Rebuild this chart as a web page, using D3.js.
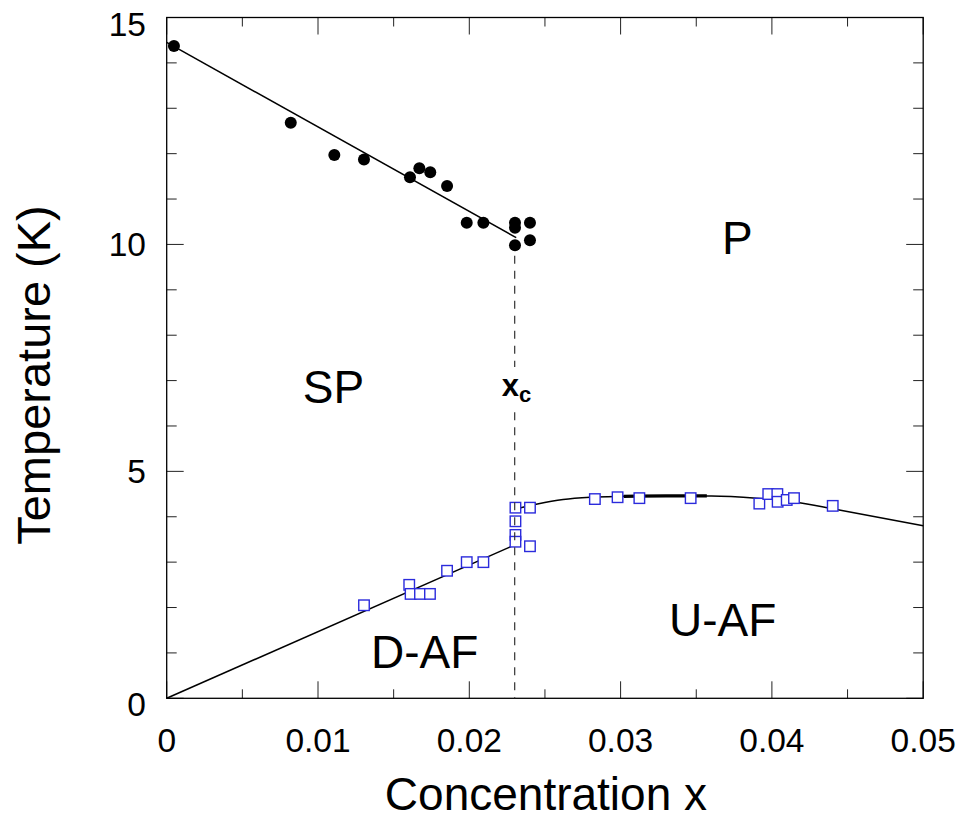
<!DOCTYPE html>
<html>
<head>
<meta charset="utf-8">
<script src="https://cdn.jsdelivr.net/npm/d3@7/dist/d3.min.js"></script>
<style>
  html, body { margin: 0; padding: 0; background: #fff; }
  svg { display: block; }
  text { font-family: "Liberation Sans", Arial, Helvetica, sans-serif; fill: #000; }
</style>
</head>
<body>
<svg id="chart" width="963" height="822"></svg>
<script>
// ---- data ----
const spX = [0.00048, 0.0082, 0.01108, 0.01304, 0.01608, 0.0167, 0.01742, 0.01853, 0.01983, 0.02093, 0.02302, 0.02302, 0.02302, 0.02401, 0.02401];
const spT = [14.37, 12.68, 11.97, 11.87, 11.48, 11.68, 11.59, 11.29, 10.48, 10.48, 10.48, 10.37, 9.98, 10.48, 10.09];

const afX = [0.01304, 0.01603, 0.01612, 0.01674, 0.0174, 0.01853, 0.01983, 0.02093, 0.02305, 0.02305, 0.02305, 0.02305, 0.02401, 0.02401,
             0.0283, 0.0298, 0.03124, 0.03463, 0.03917, 0.03976, 0.04036, 0.04038, 0.04098, 0.04146, 0.04402];
const afT = [2.05, 2.50, 2.30, 2.30, 2.30, 2.81, 3.00, 3.00, 4.20, 3.90, 3.60, 3.45, 4.20, 3.35,
             4.39, 4.43, 4.41, 4.41, 4.29, 4.50, 4.50, 4.33, 4.37, 4.41, 4.24];

const spLineX = [0, 0.0231];
const spLineT = [14.45, 10.15];

const dafLineX = [0, 0.0230];
const dafLineT = [0, 3.38];

const uafX = [0.0232, 0.0245, 0.0262, 0.0280, 0.0300, 0.0330, 0.0360, 0.0390, 0.0416, 0.0441, 0.0500];
const uafT = [4.18, 4.28, 4.38, 4.43, 4.45, 4.46, 4.46, 4.41, 4.32, 4.17, 3.80];

const thickX = [0.0302, 0.0330, 0.0357];
const thickT = [4.45, 4.46, 4.46];

const xc = 0.023;
const xcDashTop = [9.75, 7.3];
const xcDashBottom = [6.3, 0];

const xMajorTicks = [0, 0.01, 0.02, 0.03, 0.04, 0.05];
const xTickLabels = ["0", "0.01", "0.02", "0.03", "0.04", "0.05"];
const xMinorTicks = [0.005, 0.015, 0.025, 0.035, 0.045];
const yMajorTicks = [0, 5, 10, 15];
const yTickLabels = ["0", "5", "10", "15"];
const yMinorTicks = [1, 2, 3, 4, 6, 7, 8, 9, 11, 12, 13, 14];

const regionLabels = ["P", "SP", "D-AF", "U-AF"];
const regionX = [0.0367, 0.0090, 0.0135, 0.0332];
const regionT = [9.8, 6.5, 0.66, 1.37];

// ---- layout ----
const svg = d3.select("#chart");
const L = 166.7, R = 923.2, T = 17.5, B = 698.3;
const x = d3.scaleLinear().domain([0, 0.05]).range([L, R]);
const y = d3.scaleLinear().domain([0, 15]).range([B, T]);

// ---- ticks (inward on all four sides) ----
const tickG = svg.append("g").attr("stroke", "#222").attr("stroke-width", 1);
function vtick(v, len, atBottom) {
  tickG.append("line")
    .attr("x1", x(v)).attr("x2", x(v))
    .attr("y1", atBottom ? B : T).attr("y2", atBottom ? B - len : T + len);
}
function htick(v, len, atLeft) {
  tickG.append("line")
    .attr("y1", y(v)).attr("y2", y(v))
    .attr("x1", atLeft ? L : R).attr("x2", atLeft ? L + len : R - len);
}
xMajorTicks.forEach(v => { vtick(v, 17, true); vtick(v, 17, false); });
xMinorTicks.forEach(v => { vtick(v, 9, true); vtick(v, 9, false); });
yMajorTicks.forEach(v => { htick(v, 17, true); htick(v, 17, false); });
yMinorTicks.forEach(v => { htick(v, 10, true); htick(v, 10, false); });

// frame
svg.append("rect").attr("x", L).attr("y", T).attr("width", R - L).attr("height", B - T)
  .attr("fill", "none").attr("stroke", "#000").attr("stroke-width", 1.3);

// tick labels
svg.append("g").selectAll("text").data(xMajorTicks).join("text")
  .attr("x", d => x(d)).attr("y", 752)
  .attr("text-anchor", "middle").attr("font-size", 33.5)
  .text((d, i) => xTickLabels[i]);

svg.append("g").selectAll("text").data(yMajorTicks).join("text")
  .attr("x", 146).attr("y", d => y(d) + 12 + (d === 0 || d === 15 ? 6 : 0))
  .attr("text-anchor", "end").attr("font-size", 33.5)
  .text((d, i) => yTickLabels[i]);

// axis titles
svg.append("text").attr("x", (L + R) / 2 + 1).attr("y", 810)
  .attr("text-anchor", "middle").attr("font-size", 46)
  .text("Concentration x");
svg.append("text").attr("transform", "translate(50,375) rotate(-90)")
  .attr("text-anchor", "middle").attr("font-size", 47)
  .text("Temperature (K)");

// ---- lines ----
const line = d3.line().x(d => x(d[0])).y(d => y(d[1]));
const lineSmooth = d3.line().x(d => x(d[0])).y(d => y(d[1])).curve(d3.curveMonotoneX);

svg.append("path").datum(spLineX.map((v, i) => [v, spLineT[i]]))
  .attr("d", line).attr("fill", "none").attr("stroke", "#000").attr("stroke-width", 1.5);
svg.append("path").datum(dafLineX.map((v, i) => [v, dafLineT[i]]))
  .attr("d", line).attr("fill", "none").attr("stroke", "#000").attr("stroke-width", 1.5);
svg.append("path").datum(uafX.map((v, i) => [v, uafT[i]]))
  .attr("d", lineSmooth).attr("fill", "none").attr("stroke", "#000").attr("stroke-width", 1.5);
svg.append("path").datum(thickX.map((v, i) => [v, thickT[i]]))
  .attr("d", lineSmooth).attr("fill", "none").attr("stroke", "#000").attr("stroke-width", 3.2);

// ---- markers ----
svg.append("g").selectAll("circle").data(spX.map((v, i) => [v, spT[i]])).join("circle")
  .attr("cx", d => x(d[0])).attr("cy", d => y(d[1])).attr("r", 6)
  .attr("fill", "#000");

const S = 10.5;
svg.append("g").selectAll("rect").data(afX.map((v, i) => [v, afT[i]])).join("rect")
  .attr("x", d => x(d[0]) - S / 2).attr("y", d => y(d[1]) - S / 2)
  .attr("width", S).attr("height", S)
  .attr("fill", "#fff").attr("stroke", "#2b2bdc").attr("stroke-width", 1.4);

// ---- xc dashed line ----
[xcDashTop, xcDashBottom].forEach(seg => {
  svg.append("line")
    .attr("x1", x(xc)).attr("x2", x(xc))
    .attr("y1", y(seg[0])).attr("y2", y(seg[1]))
    .attr("stroke", "#333").attr("stroke-width", 1.2)
    .attr("stroke-dasharray", "8,7");
});

// xc label
const xcT = svg.append("text").attr("x", x(xc) - 13).attr("y", 396)
  .attr("font-size", 31).attr("font-weight", "bold");
xcT.append("tspan").text("x");
xcT.append("tspan").attr("font-size", 22).attr("dy", 6).text("c");

// region labels
svg.append("g").selectAll("text").data(regionLabels).join("text")
  .attr("x", (d, i) => x(regionX[i])).attr("y", (d, i) => y(regionT[i]))
  .attr("font-size", 46)
  .text(d => d);
</script>
</body>
</html>
